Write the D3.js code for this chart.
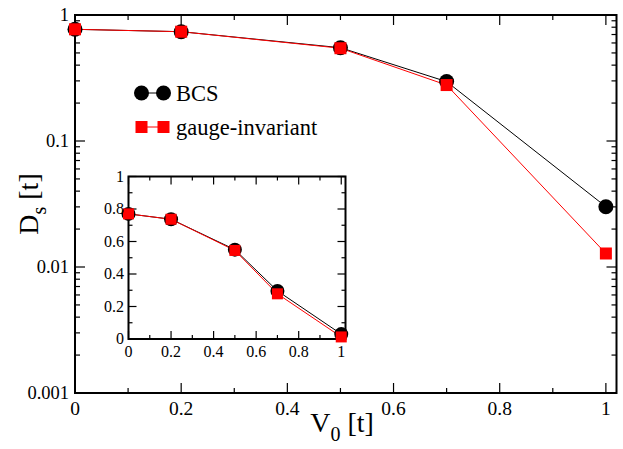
<!DOCTYPE html>
<html>
<head>
<meta charset="utf-8">
<script src="https://cdn.jsdelivr.net/npm/d3@7"></script>
<style>
  html, body { margin: 0; padding: 0; background: #fff; }
  svg { display: block; }
</style>
</head>
<body>
<svg id="chart" width="623" height="449"></svg>
<script>
// Superfluid stiffness D_s versus disorder strength V_0
const v0 = [0, 0.2, 0.5, 0.7, 1.0];
const bcs = [0.77, 0.737, 0.55, 0.296, 0.0301];
const gaugeInvariant = [0.77, 0.737, 0.545, 0.278, 0.0128];
const seriesNames = ["BCS", "gauge-invariant"];
const mainXTicks = [0, 0.2, 0.4, 0.6, 0.8, 1];
const mainYTicks = [0.001, 0.01, 0.1, 1];
const mainYTickLabels = ["0.001", "0.01", "0.1", "1"];
const insetXTicks = [0, 0.2, 0.4, 0.6, 0.8, 1];
const insetYTicks = [0, 0.2, 0.4, 0.6, 0.8, 1];

const FONT = "Liberation Serif";
const svg = d3.select("#chart");
const RED = "#ff0000";

function drawFrame(g, x, y, majorX, minorX, majorY, minorY, majLen, minLen) {
  const [x0, x1] = x.range();
  const [y0, y1] = y.range();
  g.append("rect").attr("x", x0).attr("y", y1).attr("width", x1 - x0).attr("height", y0 - y1)
    .attr("fill", "none").attr("stroke", "#000").attr("stroke-width", 2);
  const tk = g.append("g").attr("stroke", "#000").attr("stroke-width", 1.2);
  const addX = (vals, len) => vals.forEach(v => {
    const px = x(v);
    tk.append("line").attr("x1", px).attr("x2", px).attr("y1", y0).attr("y2", y0 - len);
    tk.append("line").attr("x1", px).attr("x2", px).attr("y1", y1).attr("y2", y1 + len);
  });
  const addY = (vals, len) => vals.forEach(v => {
    const py = y(v);
    tk.append("line").attr("y1", py).attr("y2", py).attr("x1", x0).attr("x2", x0 + len);
    tk.append("line").attr("y1", py).attr("y2", py).attr("x1", x1).attr("x2", x1 - len);
  });
  addX(majorX, majLen); addX(minorX, minLen);
  addY(majorY, majLen); addY(minorY, minLen);
}

function drawSeries(g, x, y, r, sq) {
  const line = d3.line().x((d, i) => x(v0[i])).y(d => y(d));
  g.append("path").datum(bcs).attr("d", line).attr("fill", "none").attr("stroke", "#000").attr("stroke-width", 1);
  g.append("path").datum(gaugeInvariant).attr("d", line).attr("fill", "none").attr("stroke", RED).attr("stroke-width", 1);
  g.selectAll(null).data(bcs).join("circle")
    .attr("cx", (d, i) => x(v0[i])).attr("cy", d => y(d)).attr("r", r).attr("fill", "#000");
  g.selectAll(null).data(gaugeInvariant).join("rect")
    .attr("x", (d, i) => x(v0[i]) - sq / 2).attr("y", d => y(d) - sq / 2)
    .attr("width", sq).attr("height", sq).attr("fill", RED);
}

// ---- main panel (log y) ----
const x = d3.scaleLinear().domain([0, 1.02]).range([75, 616.5]);
const y = d3.scaleLog().domain([0.001, 1]).range([393, 15]);
const main = svg.append("g");

const minorYMain = [];
[0.001, 0.01, 0.1].forEach(dec => { for (let k = 2; k <= 9; k++) minorYMain.push(dec * k); });
drawFrame(main, x, y, mainXTicks, [0.1, 0.3, 0.5, 0.7, 0.9], mainYTicks, minorYMain, 10, 5);
drawSeries(main, x, y, 7.5, 12);

main.selectAll(null).data(mainXTicks).join("text")
  .attr("x", d => x(d)).attr("y", 415).attr("text-anchor", "middle")
  .style("font-family", FONT).attr("font-size", 19.5).text(d => d3.format("~g")(d));
main.selectAll(null).data(mainYTicks).join("text")
  .attr("x", 69).attr("y", d => y(d) + 6).attr("text-anchor", "end")
  .style("font-family", FONT).attr("font-size", 18.5).text((d, i) => mainYTickLabels[i]);

// axis titles
const xt = main.append("text").attr("x", 342).attr("y", 432).attr("text-anchor", "middle")
  .style("font-family", FONT).attr("font-size", 28);
xt.append("tspan").text("V");
xt.append("tspan").attr("dy", 9).attr("font-size", 20).text("0");
xt.append("tspan").attr("dy", -9).text(" [t]");

const yt = main.append("text").attr("transform", "translate(38,204) rotate(-90)")
  .attr("text-anchor", "middle").style("font-family", FONT).attr("font-size", 28);
yt.append("tspan").text("D");
yt.append("tspan").attr("dy", 8).attr("font-size", 20).text("s");
yt.append("tspan").attr("dy", -8).text(" [t]");

// legend
const leg = main.append("g");
const legRows = [{ y: 93, color: "#000", shape: "circle" }, { y: 127, color: RED, shape: "square" }];
legRows.forEach((row, i) => {
  leg.append("line").attr("x1", 141.5).attr("x2", 163.5).attr("y1", row.y).attr("y2", row.y)
    .attr("stroke", row.color).attr("stroke-width", 1);
  [141.5, 163.5].forEach(cx => {
    if (row.shape === "circle") {
      leg.append("circle").attr("cx", cx).attr("cy", row.y).attr("r", 7.5).attr("fill", row.color);
    } else {
      leg.append("rect").attr("x", cx - 6).attr("y", row.y - 6).attr("width", 12).attr("height", 12).attr("fill", row.color);
    }
  });
  leg.append("text").attr("x", 176).attr("y", row.y + 7.5).style("font-family", FONT)
    .attr("font-size", 22.5).text(seriesNames[i]);
});

// ---- inset panel (linear y) ----
const xi = d3.scaleLinear().domain([0, 1.02]).range([128.5, 345.5]);
const yi = d3.scaleLinear().domain([0, 1]).range([339, 176.5]);
const inset = svg.append("g");
inset.append("rect").attr("x", 128.5).attr("y", 176.5).attr("width", 217).attr("height", 162.5).attr("fill", "#fff");
drawFrame(inset, xi, yi, insetXTicks, [0.1, 0.3, 0.5, 0.7, 0.9], insetYTicks, [0.1, 0.3, 0.5, 0.7, 0.9], 8, 4);
drawSeries(inset, xi, yi, 7, 11);

inset.selectAll(null).data(insetXTicks).join("text")
  .attr("x", d => xi(d)).attr("y", 357).attr("text-anchor", "middle")
  .style("font-family", FONT).attr("font-size", 16).text(d => d3.format("~g")(d));
inset.selectAll(null).data(insetYTicks).join("text")
  .attr("x", 124).attr("y", d => yi(d) + 5).attr("text-anchor", "end")
  .style("font-family", FONT).attr("font-size", 16).text(d => d3.format("~g")(d));
</script>
</body>
</html>
